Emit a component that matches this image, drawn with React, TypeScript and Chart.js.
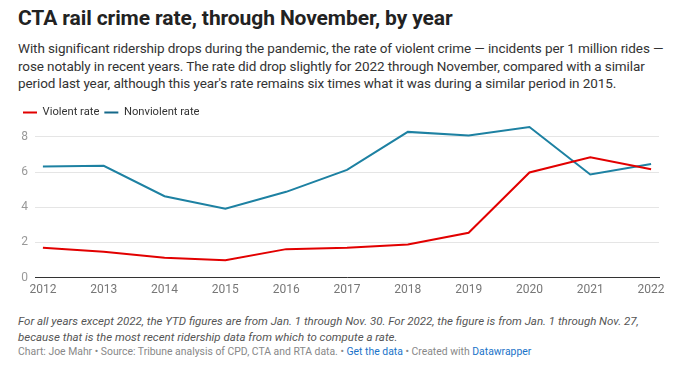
import React, { useEffect, useRef } from "react";
import { Chart, registerables } from "chart.js";

Chart.register(...registerables);

const years = [2012, 2013, 2014, 2015, 2016, 2017, 2018, 2019, 2020, 2021, 2022];
const violentRate = [1.7, 1.47, 1.13, 0.99, 1.62, 1.7, 1.89, 2.55, 5.98, 6.84, 6.17];
const nonviolentRate = [6.32, 6.36, 4.63, 3.92, 4.88, 6.13, 8.29, 8.08, 8.57, 5.87, 6.46];
const yTicks = [0, 2, 4, 6, 8];

const FONT = "Roboto, 'Noto Sans', sans-serif";

export default function App() {
  const ref = useRef<HTMLCanvasElement | null>(null);

  useEffect(() => {
    document.body.style.margin = "0";
    const ctx = ref.current!;
    const chart = new Chart(ctx, {
      type: "line",
      data: {
        datasets: [
          {
            label: "Violent rate",
            data: years.map((y, i) => ({ x: y, y: violentRate[i] })),
            borderColor: "#e20000",
            backgroundColor: "#e20000",
            borderWidth: 2,
            pointRadius: 0,
            tension: 0,
            clip: false,
          },
          {
            label: "Nonviolent rate",
            data: years.map((y, i) => ({ x: y, y: nonviolentRate[i] })),
            borderColor: "#1d81a2",
            backgroundColor: "#1d81a2",
            borderWidth: 2,
            pointRadius: 0,
            tension: 0,
            clip: false,
          },
        ],
      },
      options: {
        animation: false,
        responsive: false,
        maintainAspectRatio: false,
        layout: { padding: { left: 18, right: 21, top: 4, bottom: 0 } },
        plugins: {
          tooltip: { enabled: false },
          legend: {
            display: true,
            position: "top",
            align: "start",
            labels: {
              boxWidth: 14,
              boxHeight: 2,
              padding: 5,
              color: "#333",
              font: { family: FONT, size: 11.2 },
              generateLabels: (c: any) =>
                c.data.datasets.map((d: any, i: number) => ({
                  text: d.label,
                  fillStyle: i === 1 ? "#15698a" : d.borderColor,
                  strokeStyle: d.borderColor,
                  lineWidth: 0,
                  hidden: false,
                  datasetIndex: i,
                  fontColor: "#333",
                })),
            },
          },
        },
        scales: {
          x: {
            type: "linear",
            min: years[0] - 0.13,
            max: years[years.length - 1] + 0.13,
            afterBuildTicks: (s: any) => {
              s.ticks = years.map((v) => ({ value: v }));
            },
            grid: { display: false, drawTicks: false },
            border: { display: true, color: "#333", width: 1 },
            ticks: {
              color: "#777",
              font: { family: FONT, size: 12 },
              padding: 5,
              maxRotation: 0,
              autoSkip: false,
              callback: (v: any) => String(v),
            },
          },
          y: {
            min: 0,
            max: 8.5,
            afterBuildTicks: (s: any) => {
              s.ticks = yTicks.map((v) => ({ value: v }));
            },
            afterFit: (s: any) => {
              s.width = 17;
            },
            grid: { color: "#e5e5e5", drawTicks: false, lineWidth: 1 },
            border: { display: false },
            ticks: {
              color: "#999",
              font: { family: FONT, size: 12 },
              padding: 7,
              callback: (v: any) => String(v),
            },
          },
        },
      },
    } as any);
    return () => chart.destroy();
  }, []);

  return (
    <div style={{ position: "relative", width: 680, height: 376, background: "#fff", fontFamily: FONT, overflow: "hidden" }}>
      <div style={{ position: "absolute", left: 18, top: 6, fontSize: 21, fontWeight: 700, color: "#222", letterSpacing: -0.1, whiteSpace: "nowrap" }}>
        CTA rail crime rate, through November, by year
      </div>
      <div style={{ position: "absolute", left: 18, top: 40, fontSize: 13.5, lineHeight: "17.5px", letterSpacing: -0.1, color: "#333", whiteSpace: "nowrap" }}>
        With significant ridership drops during the pandemic, the rate of violent crime — incidents per 1 million rides —<br />
        rose notably in recent years. The rate did drop slightly for 2022 through November, compared with a similar<br />
        period last year, although this year's rate remains six times what it was during a similar period in 2015.
      </div>
      <canvas ref={ref} width={680} height={204} style={{ position: "absolute", left: 0, top: 98, width: 680, height: 204 }} />
      <div style={{ position: "absolute", left: 18, top: 313, fontSize: 11.5, lineHeight: "16px", color: "#555", fontStyle: "italic", whiteSpace: "nowrap" }}>
        For all years except 2022, the YTD figures are from Jan. 1 through Nov. 30. For 2022, the figure is from Jan. 1 through Nov. 27,<br />
        because that is the most recent ridership data from which to compute a rate.
      </div>
      <div style={{ position: "absolute", left: 18, top: 345, fontSize: 10.4, color: "#888", whiteSpace: "nowrap" }}>
        Chart: Joe Mahr • Source: Tribune analysis of CPD, CTA and RTA data. • <span style={{ color: "#1a73c9" }}>Get the data</span> • Created with <span style={{ color: "#1a73c9" }}>Datawrapper</span>
      </div>
    </div>
  );
}
